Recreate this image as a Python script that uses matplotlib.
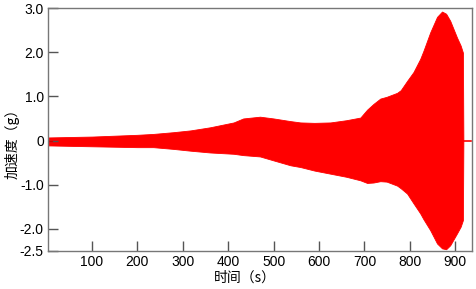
import matplotlib
matplotlib.use("Agg")
import matplotlib.pyplot as plt

# envelope of the acceleration record
time_s = [3, 50, 100, 150, 200, 235, 280, 317, 360, 412, 433, 470, 500,
          537, 559, 590, 625, 660, 691, 706, 720, 735, 749, 772, 780, 794,
          808, 823, 830, 845, 860, 871, 880, 889, 904, 912, 917, 918]
upper_g = [0.07, 0.08, 0.09, 0.11, 0.13, 0.15, 0.19, 0.23, 0.3, 0.41, 0.5, 0.54, 0.5,
           0.44, 0.41, 0.4, 0.41, 0.46, 0.52, 0.7, 0.83, 0.95, 0.99, 1.08, 1.14, 1.35,
           1.55, 1.85, 2.03, 2.45, 2.8, 2.92, 2.87, 2.71, 2.33, 2.15, 1.99, 0.02]
lower_g = [-0.11, -0.12, -0.13, -0.14, -0.15, -0.15, -0.19, -0.23, -0.27, -0.3, -0.33, -0.36, -0.45,
           -0.56, -0.6, -0.68, -0.75, -0.82, -0.9, -0.96, -0.95, -0.92, -0.93, -1.02, -1.08, -1.2,
           -1.42, -1.65, -1.78, -2.03, -2.33, -2.44, -2.46, -2.37, -2.1, -1.95, -1.8, -0.02]
tail_t = [918, 935]
tail_g = [0.0, 0.0]

x_ticks = [100, 200, 300, 400, 500, 600, 700, 800, 900]
y_ticks = [-2.5, -2.0, -1.0, 0, 1.0, 2.0, 3.0]
y_ticklabels = ["-2.5", "-2.0", "-1.0", "0", "1.0", "2.0", "3.0"]

plt.rcParams["font.family"] = ["Liberation Sans", "Noto Sans CJK SC", "DejaVu Sans"]

fig = plt.figure(figsize=(4.77, 2.89), dpi=100)
ax = fig.add_axes([48 / 477, 38 / 289, 424 / 477, 243 / 289])

ax.fill_between(time_s, lower_g, upper_g, color="#ff0000", linewidth=0.6, edgecolor="#ff0000")
ax.plot(tail_t, tail_g, color="#ff0000", linewidth=1.2)
ax.plot([3, 12], [0, 0], color="#cc0000", linewidth=0.8)

ax.set_xlim(3, 937)
ax.set_ylim(-2.5, 3.0)
ax.set_xticks(x_ticks)
ax.set_yticks(y_ticks)
ax.set_yticklabels(y_ticklabels)
ax.tick_params(direction="in", length=7, width=1, color="#555555",
               labelsize=10, pad=3)
for s in ax.spines.values():
    s.set_color("#777777")
    s.set_linewidth(1)

fig.text(245 / 477, 1 - 278 / 289, "时间（s）", ha="center", va="center",
         fontsize=10, family=["Noto Sans CJK SC", "DejaVu Sans"])
fig.text(12 / 477, 1 - 140 / 289, "加速度（g）", ha="center", va="center",
         rotation=90, fontsize=10, family=["Noto Sans CJK SC", "DejaVu Sans"])

plt.savefig("out.png", dpi=100)
plt.close()
